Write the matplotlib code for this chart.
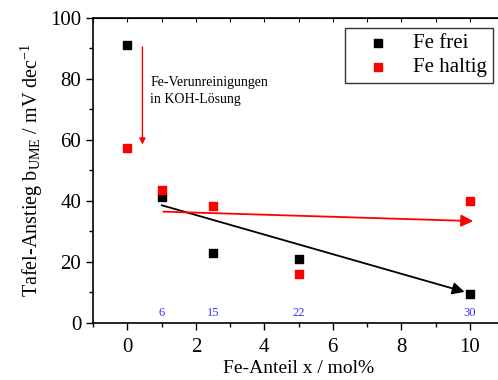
import matplotlib
matplotlib.use("Agg")
import matplotlib.pyplot as plt
from matplotlib.ticker import MultipleLocator

plt.rcParams['font.family'] = ['Liberation Serif', 'DejaVu Serif']
plt.rcParams['mathtext.fontset'] = 'custom'
plt.rcParams['mathtext.rm'] = 'Liberation Serif'
plt.rcParams['mathtext.it'] = 'Liberation Serif:italic'

# Fe-Anteil und Tafel-Anstieg
x_frei = [0, 1, 2.5, 5, 10]
b_frei = [91, 41.3, 23, 21, 9.6]
x_haltig = [0, 1, 2.5, 5, 10]
b_haltig = [57.3, 43.6, 38.4, 16.2, 40]

# Zahlen unten im Diagramm
nr_x = [1, 2.5, 5, 10]
nr_text = ['6', '15', '22', '30']

# Trendpfeile (Start, Ende)
trend_frei = [(1, 38.6), (9.85, 10.2)]
trend_haltig = [(1.05, 36.5), (10.1, 33.4)]
pfeil_fe = [(0.44, 90.5), (0.44, 58.5)]

fig = plt.figure(figsize=(4.98, 3.80), dpi=100)
ax = fig.add_axes([0.187, 0.150, 0.825, 0.803])

ax.scatter(x_frei, b_frei, marker='s', s=40, color='black', label='Fe frei', zorder=3)
ax.scatter(x_haltig, b_haltig, marker='s', s=40, color='red', label='Fe haltig', zorder=3)

ax.annotate('', xy=trend_frei[1], xytext=trend_frei[0],
            arrowprops=dict(arrowstyle='-|>', color='black', lw=1.3,
                            mutation_scale=18, shrinkA=0, shrinkB=0))
ax.annotate('', xy=trend_haltig[1], xytext=trend_haltig[0],
            arrowprops=dict(arrowstyle='-|>', color='red', lw=1.3,
                            mutation_scale=18, shrinkA=0, shrinkB=0))
ax.annotate('', xy=pfeil_fe[1], xytext=pfeil_fe[0],
            arrowprops=dict(arrowstyle='-|>', color='red', lw=1.0,
                            mutation_scale=9, shrinkA=0, shrinkB=0))
ax.text(0.67, 76, 'Fe-Verunreinigungen\nin KOH-Lösung', fontsize=10,
        va='center', ha='left', linespacing=1.45)

for xv, t in zip(nr_x, nr_text):
    ax.text(xv, 3.3, t, color='#3333ff', fontsize=9, ha='center', va='center')

ax.set_xlim(-1, 11)
ax.set_ylim(0, 100)
ax.xaxis.set_major_locator(MultipleLocator(2))
ax.xaxis.set_minor_locator(MultipleLocator(1))
ax.yaxis.set_major_locator(MultipleLocator(20))
ax.yaxis.set_minor_locator(MultipleLocator(10))
ax.tick_params(which='both', direction='out', labelsize=15, width=1)
ax.tick_params(which='major', length=5)
ax.tick_params(which='minor', length=3)
ax.tick_params(axis='x', pad=6)

# Ticks an der oberen Achse nach innen
top = ax.secondary_xaxis('top')
top.xaxis.set_major_locator(MultipleLocator(1))
top.tick_params(direction='in', length=3, labeltop=False, width=0.8)

for s in ax.spines.values():
    s.set_linewidth(1.2)

ax.set_xlabel('Fe-Anteil x / mol%', fontsize=14, labelpad=2)
ax.set_ylabel(r'Tafel-Anstieg b$_{\mathrm{UME}}$ / mV dec$^{-1}$', fontsize=14.5, labelpad=4)

leg = ax.legend(loc='upper right', bbox_to_anchor=(0.973, 0.967), borderaxespad=0,
                fontsize=15, frameon=True, fancybox=False, edgecolor='black',
                handletextpad=0.4, borderpad=0.28, labelspacing=0.2,
                markerscale=0.9, handlelength=2.6)
leg.get_frame().set_linewidth(1.0)

fig.savefig('out.png', dpi=100)
